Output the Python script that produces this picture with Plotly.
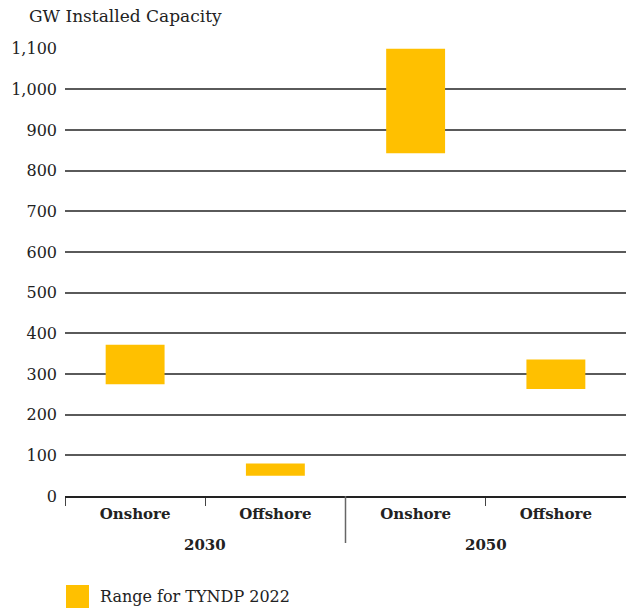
import plotly.graph_objects as go

years = ["2030", "2030", "2050", "2050"]
techs = ["Onshore", "Offshore", "Onshore", "Offshore"]
low = [275, 50, 843, 263]
high = [372, 80, 1100, 336]
tickvals = [0, 100, 200, 300, 400, 500, 600, 700, 800, 900, 1000, 1100]
legend_label = "Range for TYNDP 2022"
title_text = "GW Installed Capacity"

FONT = "DejaVu Serif"
COLOR = "#FFC000"
TXT = "#222"

cats = [f"{y} {t}" for y, t in zip(years, techs)]

# plot area geometry (px)
L, T, B = 65, 48, 113
W, H = 626, 609
PW, PH = W - L, H - T - B

fig = go.Figure()
fig.add_trace(go.Bar(
    x=cats,
    y=[h - l for h, l in zip(high, low)],
    base=low,
    width=0.42,
    marker=dict(color=COLOR, line=dict(width=0)),
    name=legend_label,
    showlegend=False,
))

fig.update_layout(
    width=W, height=H,
    margin=dict(l=L, r=0, t=T, b=B),
    plot_bgcolor="white", paper_bgcolor="white",
    font=dict(family=FONT, size=14, color=TXT),
    showlegend=False,
    xaxis=dict(
        type="category",
        tickvals=cats, ticktext=techs,
        tickson="boundaries",
        showgrid=False,
        showline=True, linecolor="#222", linewidth=1.5,
        ticks="outside", ticklen=8, tickcolor="#444", tickwidth=1,
        ticklabelstandoff=3,
        tickfont=dict(family=FONT, size=15, color=TXT, weight="bold"),
        range=[-0.5, 3.5],
    ),
    yaxis=dict(
        range=[0, 1102],
        tickvals=tickvals,
        tickformat=",",
        showgrid=True, gridcolor="#5a5a5a", gridwidth=1.5,
        zeroline=False, showline=False,
        ticks="", ticklabelstandoff=7,
        tickfont=dict(family=FONT, size=16, color=TXT),
    ),
)

# group (year) labels and divider
groups = []
for y in years:
    if y not in groups:
        groups.append(y)
for g in groups:
    idx = [i for i, y in enumerate(years) if y == g]
    fig.add_annotation(text=f"<b>{g}</b>", x=sum(idx) / len(idx), xref="x",
                       y=-(545 - 496) / PH, yref="paper", yanchor="middle",
                       showarrow=False, font=dict(family=FONT, size=15, color=TXT))
for i in range(1, len(years)):
    if years[i] != years[i - 1]:
        fig.add_shape(type="line", xref="x", yref="paper", x0=i - 0.5, x1=i - 0.5,
                      y0=0, y1=-(543 - 496) / PH, line=dict(color="#666", width=1.5))

# title
fig.add_annotation(text=title_text, xref="paper", yref="paper",
                   x=(27 - L) / PW, y=1 + (T - 16) / PH, xanchor="left", yanchor="middle",
                   showarrow=False, font=dict(family=FONT, size=17, color=TXT))

# legend (drawn manually to match swatch size)
fig.add_shape(type="rect", xref="paper", yref="paper",
              x0=(66 - L) / PW, x1=(89 - L) / PW,
              y0=-(585 - 496) / PH, y1=-(608 - 496) / PH,
              fillcolor=COLOR, line=dict(width=0))
fig.add_annotation(text=legend_label, xref="paper", yref="paper",
                   x=(98 - L) / PW, y=-(596 - 496) / PH, xanchor="left", yanchor="middle",
                   showarrow=False, font=dict(family=FONT, size=16, color=TXT))

fig.write_html("out.html")
